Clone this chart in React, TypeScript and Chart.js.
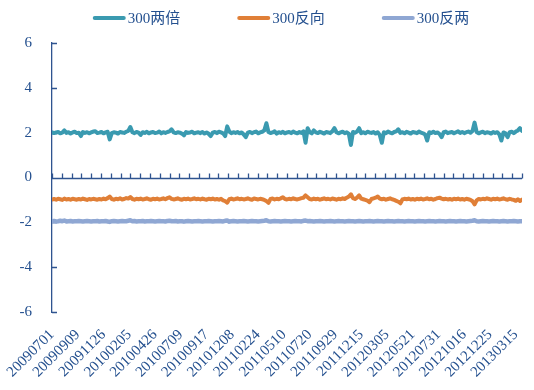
import React, { useEffect, useRef } from "react";
import { Chart, registerables } from "chart.js";

Chart.register(...registerables);

const seriesNames = ["300两倍", "300反向", "300反两"];
const seriesColors = ["#3A9AB0", "#E07F37", "#8FA7D3"];

const dateLabels = [
  "20090701", "20090909", "20091126", "20100205", "20100426", "20100709",
  "20100917", "20101208", "20110224", "20110510", "20110720", "20110929",
  "20111215", "20120305", "20120521", "20120731", "20121016", "20121225",
  "20130315",
];
const LABEL_STEP = 50; // trading days between date labels
const TICK_STEP = 19; // trading days between axis tick marks
const TOTAL_DAYS = 912;
const SAMPLE_STEP = 4; // trading days between read samples

const yTicks = [-6, -4, -2, 0, 2, 4, 6];

const teal = [
  2.02, 1.98, 2.01, 2.03, 1.97, 2.0, 2.1, 1.99, 2.02, 1.96, 2.01, 2.04, 1.98, 2.0, 1.85, 2.03, 1.99, 2.02, 1.97, 2.01,
  2.05, 2.06, 1.98, 2.0, 2.03, 1.97, 2.01, 2.04, 1.7, 1.98, 2.02, 2.0, 1.96, 2.03, 2.01, 1.99, 2.04, 2.08, 2.25, 2.02,
  1.98, 2.03, 2.0, 1.9, 2.02, 1.99, 2.04, 1.97, 2.01, 2.03, 1.98, 2.0, 2.05, 1.97, 2.02, 1.99, 2.03, 2.06, 2.15, 2.01,
  1.98, 2.02, 2.0, 1.96, 1.88, 2.03, 1.99, 2.01, 2.04, 1.97, 2.0, 2.02, 1.98, 2.03, 1.96, 2.01, 1.95, 1.85, 2.0, 2.03,
  1.98, 2.04, 2.01, 1.97, 1.85, 2.28, 2.05, 1.98, 2.02, 1.99, 2.03, 1.97, 2.01, 1.92, 1.8, 2.0, 2.03, 1.98, 2.02, 2.05,
  1.97, 2.01, 2.04, 2.1, 2.42, 2.03, 1.98, 2.01, 2.06, 1.96, 2.02, 1.99, 2.04, 1.97, 2.01, 2.03, 1.98, 2.05, 2.0, 1.97,
  2.03, 1.99, 2.06, 1.55, 2.2, 2.02, 1.97, 2.1, 2.01, 1.98, 2.04, 2.0, 1.96, 2.03, 2.01, 1.98, 2.06, 2.2, 2.02, 1.97,
  2.01, 2.04, 1.98, 2.02, 1.95, 1.45, 2.03, 2.0, 2.05, 2.2, 1.98, 2.02, 1.97, 2.04, 2.01, 1.99, 2.03, 1.96, 2.02, 1.9,
  1.55, 2.02, 1.98, 2.05, 2.0, 1.97, 2.03, 2.06, 2.15, 1.99, 2.02, 1.97, 2.04, 2.0, 1.96, 2.03, 2.01, 1.98, 2.05, 2.0,
  1.97, 1.92, 1.65, 2.02, 1.99, 2.04, 1.98, 2.01, 1.94, 1.8, 2.02, 2.05, 1.98, 2.01, 2.03, 1.97, 2.02, 2.06, 1.99, 2.03,
  1.98, 2.02, 2.05, 2.0, 2.08, 2.45, 2.03, 1.97, 2.01, 2.04, 1.98, 2.02, 2.0, 1.96, 2.03, 1.99, 2.02, 1.92, 1.65, 2.01,
  1.97, 1.8, 2.02, 2.04, 1.98, 2.05, 2.1, 2.2, 2.08,
];

const orange = [
  -0.98, -0.96, -0.99, -0.95, -0.97, -1.0, -0.94, -0.98, -0.96, -0.99, -0.95, -0.97, -0.99, -0.96, -0.98, -0.94, -0.97, -1.0, -0.96, -0.98,
  -0.95, -0.97, -0.99, -0.96, -0.98, -0.94, -0.97, -0.92, -0.85, -0.96, -0.99, -0.95, -0.97, -0.93, -0.98, -0.96, -0.92, -0.94, -0.87, -0.96,
  -0.99, -0.95, -0.97, -0.94, -0.98, -0.96, -0.93, -0.97, -0.99, -0.95, -0.97, -0.94, -0.98, -0.96, -0.93, -0.97, -0.92, -0.88, -0.95, -0.98,
  -0.96, -0.93, -0.97, -0.99, -0.95, -0.97, -0.94, -0.98, -0.96, -0.93, -0.97, -0.95, -0.98, -0.94, -0.97, -0.99, -0.95, -0.97, -0.94, -0.98,
  -0.96, -0.99, -0.95, -1.02, -1.05, -1.12, -0.97, -0.94, -0.98, -0.96, -0.93, -0.97, -0.95, -0.98, -0.96, -0.93, -0.97, -0.99, -0.94, -0.96,
  -0.98, -0.95, -0.97, -1.0, -1.05, -1.13, -0.96, -0.94, -0.98, -0.95, -0.97, -0.93, -0.88, -0.96, -0.98, -0.95, -0.97, -0.93, -0.96, -0.98,
  -0.95, -0.92, -0.9, -0.8, -0.88, -0.96, -0.98, -0.94, -0.97, -0.95, -0.99, -0.96, -0.93, -0.97, -0.95, -0.98, -0.94, -0.96, -0.99, -0.95,
  -0.97, -0.93, -0.96, -0.9, -0.85, -0.75, -0.92, -0.96, -0.9, -0.8, -0.94, -0.97, -1.0, -1.03, -1.1, -0.96, -0.93, -0.9, -0.85, -0.94,
  -0.97, -0.95, -0.99, -0.96, -0.93, -0.97, -1.0, -1.04, -1.08, -1.15, -0.98, -0.95, -0.97, -0.94, -0.98, -0.96, -0.99, -0.95, -0.97, -0.94,
  -0.98, -0.96, -0.93, -0.97, -0.95, -0.99, -0.96, -0.92, -0.9, -0.94, -0.97, -0.95, -0.98, -0.96, -0.99, -0.95, -0.97, -0.94, -0.98, -0.96,
  -0.99, -0.95, -0.97, -1.0, -1.06, -1.2, -1.02, -0.96, -0.98, -0.95, -0.97, -0.93, -0.96, -0.99, -0.95, -0.97, -0.94, -0.98, -0.96, -0.93,
  -0.97, -0.99, -0.95, -0.98, -1.0, -1.04, -0.97, -1.05, -0.99,
];

const purple = [
  -1.95, -1.94, -1.96, -1.95, -1.93, -1.95, -1.92, -1.96, -1.95, -1.94, -1.96, -1.95, -1.95, -1.94, -1.95, -1.96, -1.95, -1.94, -1.95, -1.96,
  -1.95, -1.95, -1.94, -1.96, -1.95, -1.95, -1.94, -1.96, -1.98, -1.95, -1.94, -1.95, -1.96, -1.95, -1.94, -1.95, -1.95, -1.93, -1.91, -1.95,
  -1.94, -1.96, -1.95, -1.95, -1.94, -1.96, -1.95, -1.95, -1.94, -1.95, -1.96, -1.95, -1.94, -1.95, -1.95, -1.96, -1.94, -1.93, -1.95, -1.95,
  -1.94, -1.96, -1.95, -1.95, -1.97, -1.95, -1.94, -1.95, -1.96, -1.95, -1.95, -1.94, -1.95, -1.96, -1.95, -1.95, -1.94, -1.95, -1.96, -1.95,
  -1.95, -1.94, -1.95, -1.96, -1.93, -1.92, -1.97, -1.95, -1.94, -1.95, -1.96, -1.95, -1.95, -1.94, -1.95, -1.96, -1.95, -1.94, -1.95, -1.95,
  -1.96, -1.95, -1.94, -1.93, -1.91, -1.95, -1.96, -1.95, -1.94, -1.95, -1.95, -1.96, -1.95, -1.94, -1.95, -1.95, -1.96, -1.95, -1.94, -1.95,
  -1.95, -1.96, -1.93, -1.92, -1.95, -1.94, -1.95, -1.96, -1.95, -1.95, -1.94, -1.95, -1.96, -1.95, -1.95, -1.94, -1.95, -1.96, -1.95, -1.94,
  -1.95, -1.95, -1.96, -1.95, -1.94, -1.95, -1.95, -1.96, -1.95, -1.94, -1.95, -1.96, -1.95, -1.95, -1.94, -1.95, -1.96, -1.95, -1.94, -1.95,
  -1.95, -1.96, -1.95, -1.94, -1.95, -1.95, -1.96, -1.95, -1.94, -1.95, -1.95, -1.96, -1.95, -1.94, -1.95, -1.95, -1.96, -1.95, -1.94, -1.95,
  -1.95, -1.96, -1.95, -1.94, -1.95, -1.95, -1.96, -1.95, -1.94, -1.95, -1.95, -1.96, -1.95, -1.94, -1.95, -1.95, -1.96, -1.95, -1.94, -1.95,
  -1.95, -1.96, -1.95, -1.94, -1.93, -1.91, -1.95, -1.96, -1.95, -1.94, -1.95, -1.95, -1.96, -1.95, -1.94, -1.95, -1.95, -1.96, -1.95, -1.94,
  -1.95, -1.96, -1.95, -1.95, -1.94, -1.95, -1.96, -1.95, -1.95,
];

const seriesValues = [teal, orange, purple];
const seriesWidths = [4, 4, 4.5];

const AXIS_COLOR = "#2F5490";
const TEXT_COLOR = "#24508F";
const FONT_FAMILY = '"Liberation Serif", "Times New Roman", "Noto Sans CJK SC", serif';

const excelAxes = {
  id: "excelAxes",
  beforeDatasetsDraw(chart: any) {
    const { ctx, chartArea, scales } = chart;
    const x = scales.x;
    const y = scales.y;
    ctx.save();
    ctx.strokeStyle = AXIS_COLOR;
    ctx.lineWidth = 1.3;
    const y0 = Math.round(y.getPixelForValue(0)) + 0.5;
    ctx.beginPath();
    ctx.moveTo(chartArea.left, y0);
    ctx.lineTo(chartArea.right, y0);
    for (let v = 0; v <= TOTAL_DAYS; v += TICK_STEP) {
      const px = Math.round(x.getPixelForValue(v)) + 0.5;
      ctx.moveTo(px, y0);
      ctx.lineTo(px, y0 - 5);
    }
    for (const t of yTicks) {
      const py = Math.round(y.getPixelForValue(t)) + 0.5;
      ctx.moveTo(chartArea.left, py);
      ctx.lineTo(chartArea.left + 5, py);
    }
    ctx.stroke();
    ctx.restore();
  },
};

const topLegend = {
  id: "topLegend",
  afterDraw(chart: any) {
    const { ctx, chartArea } = chart;
    const datasets = chart.data.datasets;
    const lineLen = 33;
    const gap = 2;
    const itemGap = 57;
    ctx.save();
    ctx.font = `15px ${FONT_FAMILY}`;
    const widths = datasets.map((ds: any) => lineLen + gap + ctx.measureText(ds.label).width);
    const total = widths.reduce((a: number, b: number) => a + b, 0) + itemGap * (datasets.length - 1);
    let x = (chartArea.left + chartArea.right) / 2 - 6 - total / 2;
    const yc = 18;
    datasets.forEach((ds: any, i: number) => {
      ctx.strokeStyle = ds.borderColor;
      ctx.lineWidth = 4;
      ctx.lineCap = "round";
      ctx.beginPath();
      ctx.moveTo(x + 2, yc);
      ctx.lineTo(x + lineLen - 2, yc);
      ctx.stroke();
      ctx.fillStyle = TEXT_COLOR;
      ctx.textBaseline = "middle";
      ctx.textAlign = "left";
      ctx.fillText(ds.label, x + lineLen + gap, yc + 1);
      x += widths[i] + itemGap;
    });
    ctx.restore();
  },
};

export default function App() {
  const canvasRef = useRef<HTMLCanvasElement | null>(null);

  useEffect(() => {
    if (!canvasRef.current) return;
    const chart = new Chart(canvasRef.current, {
      type: "line",
      data: {
        datasets: seriesNames.map((name, s) => ({
          label: name,
          data: seriesValues[s].map((v, k) => ({ x: k * SAMPLE_STEP, y: v })),
          borderColor: seriesColors[s],
          backgroundColor: seriesColors[s],
          borderWidth: seriesWidths[s],
          pointRadius: 0,
          tension: 0,
          borderJoinStyle: "round",
          borderCapStyle: "round",
        })),
      },
      options: {
        animation: false,
        responsive: true,
        maintainAspectRatio: false,
        layout: { padding: { top: 43, right: 12, left: 0, bottom: 4 } },
        plugins: {
          legend: { display: false },
          tooltip: { enabled: false },
        },
        scales: {
          x: {
            type: "linear",
            min: 0,
            max: TOTAL_DAYS,
            position: "bottom",
            grid: { display: false, drawTicks: false },
            border: { display: false },
            afterBuildTicks: (axis: any) => {
              axis.ticks = dateLabels.map((_, i) => ({ value: i * LABEL_STEP }));
            },
            afterFit: (axis: any) => {
              axis.paddingLeft = 0;
              axis.paddingRight = 0;
              axis.height = 74;
            },
            ticks: {
              autoSkip: false,
              minRotation: 45,
              maxRotation: 45,
              padding: 14,
              color: TEXT_COLOR,
              font: { family: FONT_FAMILY, size: 15 },
              callback: (value: any) => {
                const i = Math.round(Number(value) / LABEL_STEP);
                return dateLabels[i] ?? "";
              },
            },
          },
          y: {
            min: -6,
            max: 6,
            grid: { display: false, drawTicks: false },
            border: { display: true, color: AXIS_COLOR, width: 1.3 },
            afterBuildTicks: (axis: any) => {
              axis.ticks = yTicks.map((v) => ({ value: v }));
            },
            afterFit: (axis: any) => {
              axis.width = 52;
              axis.paddingTop = 0;
              axis.paddingBottom = 0;
            },
            ticks: {
              padding: 20,
              color: TEXT_COLOR,
              font: { family: FONT_FAMILY, size: 15 },
            },
          },
        },
      },
      plugins: [excelAxes, topLegend],
    });
    return () => chart.destroy();
  }, []);

  return (
    <div style={{ position: "absolute", left: 0, top: 0, width: 534, height: 390, background: "#fff" }}>
      <canvas ref={canvasRef} />
    </div>
  );
}
